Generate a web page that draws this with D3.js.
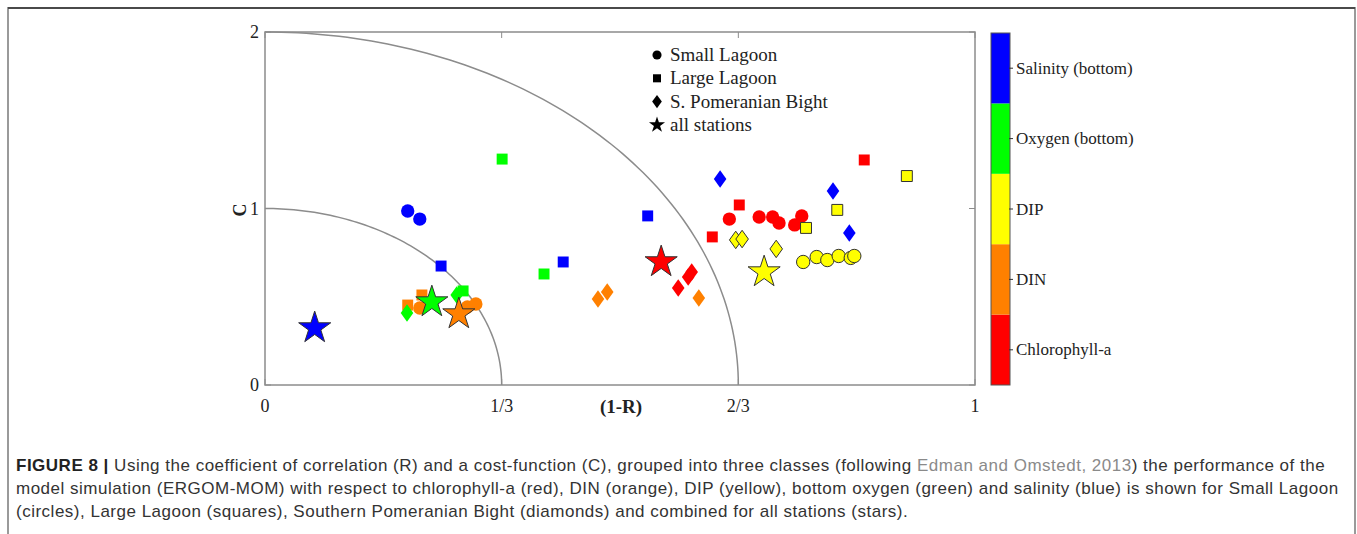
<!DOCTYPE html>
<html>
<head>
<meta charset="utf-8">
<script src="https://cdn.jsdelivr.net/npm/d3@7.9.0/dist/d3.min.js"></script>
<style>
  body { margin: 0; background: #fff; }
  svg { display: block; }
  .serif { font-family: "Liberation Serif", "Times New Roman", serif; fill: #222; }
  .cap { font-family: "Liberation Sans", Arial, sans-serif; fill: #333; }
</style>
</head>
<body>
<svg id="fig" width="1357" height="534"></svg>
<script>
// parameters, bottom to top of the colour bar
const params = ['Chlorophyll-a', 'DIN', 'DIP', 'Oxygen (bottom)', 'Salinity (bottom)'];
const paramColors = ['#ff0000', '#ff8000', '#ffff00', '#00ff00', '#0000ff'];

// [parameter, 1-R, C]
const smallLagoon = [
  ['Salinity (bottom)', 0.201, 0.986], ['Salinity (bottom)', 0.218, 0.940],
  ['DIN', 0.218, 0.436], ['DIN', 0.285, 0.442], ['DIN', 0.297, 0.459],
  ['Chlorophyll-a', 0.654, 0.940], ['Chlorophyll-a', 0.696, 0.952], ['Chlorophyll-a', 0.715, 0.952],
  ['Chlorophyll-a', 0.724, 0.918], ['Chlorophyll-a', 0.746, 0.907], ['Chlorophyll-a', 0.756, 0.958],
  ['DIP', 0.758, 0.697], ['DIP', 0.777, 0.725], ['DIP', 0.792, 0.708],
  ['DIP', 0.808, 0.731], ['DIP', 0.825, 0.720], ['DIP', 0.830, 0.731]
];
const largeLagoon = [
  ['Salinity (bottom)', 0.248, 0.674], ['Salinity (bottom)', 0.420, 0.697], ['Salinity (bottom)', 0.539, 0.958],
  ['Oxygen (bottom)', 0.334, 1.280], ['Oxygen (bottom)', 0.393, 0.629], ['Oxygen (bottom)', 0.279, 0.533],
  ['DIN', 0.221, 0.510], ['DIN', 0.201, 0.453],
  ['Chlorophyll-a', 0.668, 1.020], ['Chlorophyll-a', 0.630, 0.839], ['Chlorophyll-a', 0.844, 1.275],
  ['DIP', 0.762, 0.890], ['DIP', 0.806, 0.992], ['DIP', 0.904, 1.184]
];
const pomeranianBight = [
  ['Salinity (bottom)', 0.641, 1.167], ['Salinity (bottom)', 0.800, 1.099], ['Salinity (bottom)', 0.823, 0.861],
  ['Oxygen (bottom)', 0.200, 0.408], ['Oxygen (bottom)', 0.270, 0.510],
  ['DIN', 0.469, 0.487], ['DIN', 0.482, 0.527], ['DIN', 0.611, 0.493],
  ['Chlorophyll-a', 0.582, 0.550], ['Chlorophyll-a', 0.596, 0.612], ['Chlorophyll-a', 0.601, 0.640],
  ['DIP', 0.663, 0.822], ['DIP', 0.672, 0.827], ['DIP', 0.720, 0.771]
];
const allStations = [
  ['Salinity (bottom)', 0.070, 0.323], ['Oxygen (bottom)', 0.235, 0.470],
  ['DIN', 0.273, 0.402], ['Chlorophyll-a', 0.558, 0.697], ['DIP', 0.703, 0.640]
];

const xTicks = [0, 1/3, 2/3, 1];
const xTickLabels = ['0', '1/3', '2/3', '1'];
const yTicks = [0, 1, 2];
const classBounds = [1/3, 2/3];   // class limits on the 1-R axis (C = 3*(1-R))

// wider diamond than d3's default, like Matlab's 'd' marker
const diamond = {
  draw(ctx, size) {
    const h = Math.sqrt(size / 1.44);
    const w = h * 0.72;
    ctx.moveTo(0, -h); ctx.lineTo(w, 0); ctx.lineTo(0, h); ctx.lineTo(-w, 0); ctx.closePath();
  }
};

const legendItems = [
  ['Small Lagoon', d3.symbolCircle],
  ['Large Lagoon', d3.symbolSquare],
  ['S. Pomeranian Bight', diamond],
  ['all stations', d3.symbolStar]
];

const svg = d3.select('#fig');

// figure frame
svg.append('rect').attr('x', 8).attr('y', 8).attr('width', 1347).attr('height', 540)
  .attr('fill', 'none').attr('stroke', '#9a9a9a').attr('stroke-width', 2);
svg.append('line').attr('x1', 8).attr('x2', 1355).attr('y1', 8).attr('y2', 8)
  .attr('stroke', '#4a4a4a').attr('stroke-width', 2);

const x = d3.scaleLinear().domain([0, 1]).range([265, 975]);
const y = d3.scaleLinear().domain([0, 2]).range([385, 32]);
const color = d3.scaleOrdinal().domain(params).range(paramColors);
const axisColor = '#8c8c8c';

// class boundary arcs
const arcLine = d3.line().x(d => x(d[0])).y(d => y(d[1]));
classBounds.forEach(b => {
  const pts = d3.range(0, 91).map(a => {
    const t = a * Math.PI / 180;
    return [b * Math.cos(t), 3 * b * Math.sin(t)];
  });
  svg.append('path').attr('d', arcLine(pts)).attr('fill', 'none')
    .attr('stroke', axisColor).attr('stroke-width', 1.5);
});

// box and inward ticks
svg.append('rect').attr('x', x(0)).attr('y', y(2)).attr('width', x(1) - x(0)).attr('height', y(0) - y(2))
  .attr('fill', 'none').attr('stroke', axisColor).attr('stroke-width', 1.5);

const gx = svg.append('g');
xTicks.forEach((t, i) => {
  gx.append('line').attr('x1', x(t)).attr('x2', x(t)).attr('y1', y(0)).attr('y2', y(0) - 6).attr('stroke', axisColor);
  gx.append('line').attr('x1', x(t)).attr('x2', x(t)).attr('y1', y(2)).attr('y2', y(2) + 6).attr('stroke', axisColor);
  gx.append('text').attr('class', 'serif').attr('x', x(t)).attr('y', y(0) + 27)
    .attr('text-anchor', 'middle').attr('font-size', 18).text(xTickLabels[i]);
});
yTicks.forEach(t => {
  gx.append('line').attr('x1', x(0)).attr('x2', x(0) + 6).attr('y1', y(t)).attr('y2', y(t)).attr('stroke', axisColor);
  gx.append('line').attr('x1', x(1)).attr('x2', x(1) - 6).attr('y1', y(t)).attr('y2', y(t)).attr('stroke', axisColor);
  gx.append('text').attr('class', 'serif').attr('x', x(0) - 6).attr('y', y(t) + 6)
    .attr('text-anchor', 'end').attr('font-size', 18).text(t);
});

svg.append('text').attr('class', 'serif').attr('x', 621).attr('y', 413)
  .attr('text-anchor', 'middle').attr('font-size', 19).attr('font-weight', 'bold').text('(1-R)');
svg.append('text').attr('class', 'serif').attr('transform', 'translate(246,210) rotate(-90)')
  .attr('text-anchor', 'middle').attr('font-size', 18).attr('font-weight', 'bold').text('C');

// markers
function drawGroup(rows, type, size, strokeAll) {
  const sym = d3.symbol().type(type).size(size);
  svg.append('g').selectAll('path').data(rows).join('path')
    .attr('d', sym)
    .attr('transform', d => `translate(${x(d[1])},${y(d[2])})`)
    .attr('fill', d => color(d[0]))
    .attr('stroke', d => (strokeAll || d[0] === 'DIP') ? '#333' : 'none')
    .attr('stroke-width', 1);
}
drawGroup(smallLagoon, d3.symbolCircle, 140, false);
drawGroup(largeLagoon, d3.symbolSquare, 120, false);
drawGroup(pomeranianBight, diamond, 110, false);
drawGroup(allStations, d3.symbolStar, 320, true);

// legend
const lg = svg.append('g');
legendItems.forEach(([label, type], i) => {
  const cy = 55 + i * 23.3;
  lg.append('path').attr('d', d3.symbol().type(type).size(type === d3.symbolStar ? 80 : 65)())
    .attr('transform', `translate(657,${cy})`).attr('fill', '#000');
  lg.append('text').attr('class', 'serif').attr('x', 670).attr('y', cy + 6)
    .attr('font-size', 19).text(label);
});

// colour bar
const band = 352 / params.length;
const cbg = svg.append('g');
cbg.selectAll('rect').data(params).join('rect')
  .attr('x', 991).attr('width', 19)
  .attr('y', (d, i) => 385 - (i + 1) * band).attr('height', band)
  .attr('fill', d => color(d));
cbg.append('rect').attr('x', 991).attr('y', 33).attr('width', 19).attr('height', 352)
  .attr('fill', 'none').attr('stroke', '#555').attr('stroke-width', 1);
params.forEach((p, i) => {
  const cy = 385 - (i + 0.5) * band;
  cbg.append('line').attr('x1', 1009).attr('x2', 1013).attr('y1', cy).attr('y2', cy).attr('stroke', '#333');
  cbg.append('text').attr('class', 'serif').attr('x', 1016).attr('y', cy + 5.5)
    .attr('font-size', 17).text(p);
});

// caption
const capLines = [
  [['FIGURE 8 | ', 'b'], ['Using the coefficient of correlation (R) and a cost-function (C), grouped into three classes (following ', ''], ['Edman and Omstedt, 2013', 'g'], [') the performance of the', '']],
  [['model simulation (ERGOM-MOM) with respect to chlorophyll-a (red), DIN (orange), DIP (yellow), bottom oxygen (green) and salinity (blue) is shown for Small Lagoon', '']],
  [['(circles), Large Lagoon (squares), Southern Pomeranian Bight (diamonds) and combined for all stations (stars).', '']]
];
capLines.forEach((parts, i) => {
  const t = svg.append('text').attr('class', 'cap').attr('x', 16).attr('y', 471 + i * 23)
    .attr('font-size', 17).attr('letter-spacing', 0.5);
  parts.forEach(([s, k]) => {
    t.append('tspan').text(s)
      .attr('font-weight', k === 'b' ? 'bold' : null)
      .attr('fill', k === 'g' ? '#8a8a8a' : (k === 'b' ? '#222' : null));
  });
});
</script>
</body>
</html>
